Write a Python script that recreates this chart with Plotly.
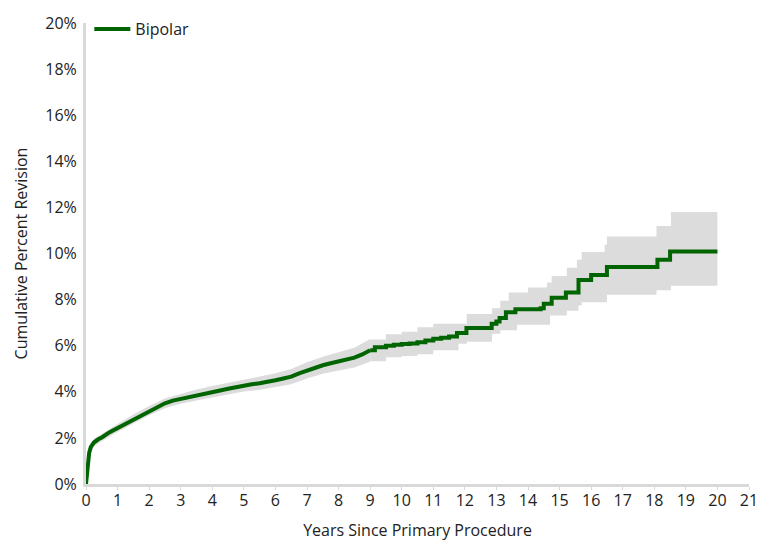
import plotly.graph_objects as go

# Cumulative percent revision (Bipolar)
# early portion (dense, drawn smooth)
years_early = [0, 0.03, 0.06, 0.1, 0.15, 0.25, 0.4, 0.5, 0.75, 1.0, 1.25, 1.5, 1.75, 2.0,
               2.25, 2.5, 2.75, 3.0, 3.25, 3.5, 3.75, 4.0, 4.25, 4.5, 4.75, 5.0, 5.25,
               5.5, 5.75, 6.0, 6.25, 6.5, 6.75, 7.0, 7.25, 7.5, 7.75, 8.0, 8.25, 8.5,
               8.75, 9.0]
cpr_early = [0, 0.5, 1.0, 1.35, 1.6, 1.8, 1.95, 2.02, 2.25, 2.43, 2.62, 2.82, 3.0, 3.18,
             3.35, 3.5, 3.62, 3.7, 3.78, 3.86, 3.93, 4.0, 4.06, 4.13, 4.21, 4.28, 4.33,
             4.37, 4.42, 4.5, 4.58, 4.66, 4.8, 4.93, 5.05, 5.15, 5.24, 5.32, 5.4, 5.48,
             5.62, 5.8]
# later portion (step curve)
years_late = [9.0, 9.15, 9.5, 9.75, 10.0, 10.25, 10.5, 10.75, 11.0, 11.25, 11.5,
              11.75, 12.05, 12.85, 13.0, 13.1, 13.3, 13.6, 14.4, 14.5, 14.75, 15.2,
              15.6, 16.0, 16.5, 18.1, 18.5, 20.0]
cpr_late = [5.8, 5.93, 6.0, 6.04, 6.07, 6.1, 6.15, 6.23, 6.3, 6.35, 6.4,
            6.55, 6.77, 6.95, 7.05, 7.2, 7.45, 7.58, 7.62, 7.82, 8.08, 8.31,
            8.85, 9.07, 9.41, 9.73, 10.09, 10.09]

# 95% confidence band
band_years_early = [0, 0.1, 0.25, 0.5, 1.0, 1.5, 2.0, 2.5, 3.0, 3.5, 4.0, 4.5, 5.0, 5.5,
                    6.0, 6.5, 7.0, 7.5, 8.0, 8.5, 9.0]
lower_early = [0, 1.2, 1.64, 1.86, 2.26, 2.63, 2.98, 3.29, 3.48, 3.62, 3.75, 3.87, 4.01, 4.09,
               4.2, 4.33, 4.58, 4.78, 4.92, 5.05, 5.3]
upper_early = [0, 1.5, 1.96, 2.18, 2.6, 3.01, 3.38, 3.71, 3.92, 4.1, 4.25, 4.39, 4.55, 4.66,
               4.8, 4.99, 5.28, 5.52, 5.72, 5.91, 6.29]
band_years_late = [9.0, 9.5, 10.0, 10.5, 11.0, 11.8,
                   12.06, 12.86, 13.12, 13.39, 13.65, 14.0, 14.6, 14.7, 14.75, 15.23,
                   15.55, 15.6, 15.7, 16.43, 16.5, 18.07, 18.53, 20.0]
lower_late = [5.33, 5.5, 5.55, 5.63, 5.8, 6.09,
              6.17, 6.52, 6.67, 6.67, 6.91, 6.91, 6.91, 7.31, 7.31, 7.52,
              7.52, 7.74, 7.88, 7.88, 8.21, 8.41, 8.6, 8.6]
upper_late = [6.27, 6.5, 6.6, 6.8, 6.95, 6.95,
              7.38, 7.62, 7.95, 8.31, 8.31, 8.52, 8.74, 8.74, 9.02, 9.38,
              9.73, 9.73, 10.06, 10.38, 10.74, 11.19, 11.8, 11.8]

x_ticks = list(range(0, 22))
y_ticks = list(range(0, 21, 2))
y_labels = [f"{v}%" for v in y_ticks]

GREEN = "#006400"
BAND = "#dcdcdc"
FONT = "Open Sans"

fig = go.Figure()
for bx, lo, hi, shp in [(band_years_early, lower_early, upper_early, "linear"),
                        (band_years_late, lower_late, upper_late, "hv")]:
    fig.add_trace(go.Scatter(x=bx, y=lo, mode="lines", line=dict(width=0, shape=shp, color=BAND),
                             showlegend=False, hoverinfo="skip"))
    fig.add_trace(go.Scatter(x=bx, y=hi, mode="lines", line=dict(width=0, shape=shp, color=BAND),
                             fill="tonexty", fillcolor=BAND, showlegend=False, hoverinfo="skip"))
fig.add_trace(go.Scatter(x=years_early, y=cpr_early, mode="lines", name="Bipolar",
                         legendgroup="b", line=dict(color=GREEN, width=4, shape="linear")))
fig.add_trace(go.Scatter(x=years_late, y=cpr_late, mode="lines", name="Bipolar",
                         legendgroup="b", showlegend=False,
                         line=dict(color=GREEN, width=4, shape="hv")))

fig.update_layout(
    width=761, height=547,
    margin=dict(l=86, r=12, t=17, b=63),
    paper_bgcolor="white", plot_bgcolor="white",
    font=dict(family=FONT, size=16, color="#222222"),
    showlegend=True,
    legend=dict(x=0.005, y=1.0235, xanchor="left", yanchor="top", bgcolor="rgba(0,0,0,0)",
                font=dict(size=16, color="#222222"), itemwidth=36),
    xaxis=dict(range=[0, 21], tickvals=x_ticks, ticktext=[str(v) for v in x_ticks],
               showgrid=False, zeroline=False, showline=True, linecolor="#d9d9d9", linewidth=3,
               ticks="outside", ticklen=3, tickcolor="#d9d9d9", tickwidth=1,
               tickfont=dict(size=16), automargin=False, ticklabeloverflow="allow",
               ticklabelstandoff=-3,
               title=dict(text="Years Since Primary Procedure", font=dict(size=16), standoff=15)),
    yaxis=dict(range=[0, 20], tickvals=y_ticks, ticktext=y_labels,
               showgrid=False, zeroline=False, showline=True, linecolor="#d9d9d9", linewidth=3,
               ticks="", tickfont=dict(size=16), automargin=False, ticklabeloverflow="allow",
               ticklabelstandoff=3,
               title=dict(text="Cumulative Percent Revision", font=dict(size=16), standoff=14)),
)

fig.write_html("out.html", config={"displayModeBar": False},
               post_script="document.body.style.margin='0px';document.body.style.overflow='hidden';")
